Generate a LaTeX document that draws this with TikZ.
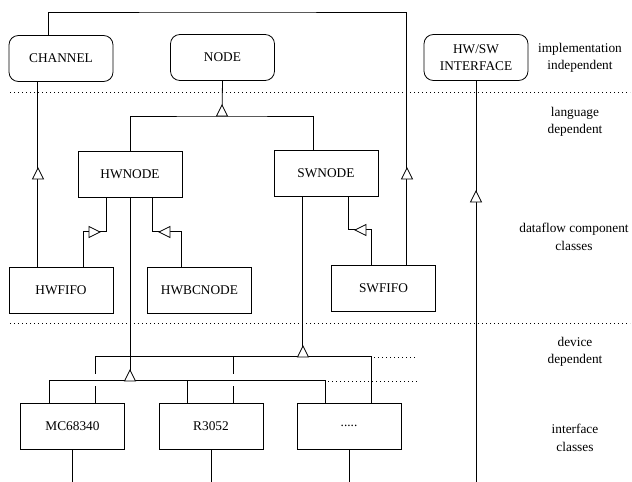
\documentclass[tikz,border=0pt]{standalone}
\usepackage{fontspec}
\setmainfont{Liberation Serif}
\usetikzlibrary{calc}
\tikzset{
  box/.style={draw, minimum width=78pt, minimum height=34.5pt, inner sep=0pt,
              font=\fontsize{10}{13}\selectfont, align=center},
  rbox/.style={box, rounded corners=7pt},
  lab/.style={align=center, font=\fontsize{10}{13}\selectfont},
  sep/.style={dash pattern=on 0.75pt off 2.25pt},
  triup/.pic={\draw[fill=white] (0,0)--(-5.5,11)--(5.5,11)--cycle;},
  trileft/.pic={\draw[fill=white] (0,0)--(11,-5.5)--(11,5.5)--cycle;},
  triright/.pic={\draw[fill=white] (0,0)--(-11,-5.5)--(-11,5.5)--cycle;},
}
\begin{document}
\begin{tikzpicture}[x=0.75pt,y=-0.75pt,line width=0.6pt]
\useasboundingbox (0,0) rectangle (632,482);

% separators
\draw[sep] (10,92.7) -- (630,92.7);
\draw[sep] (10,323) -- (630,323);

% nodes
\node[rbox] (channel) at (61,58.5) {CHANNEL};
\node[rbox] (node) at (222.5,57.5) {NODE};
\node[rbox] (hwsw) at (476,57.5) {HW/SW\\INTERFACE};
\node[box] (hwnode) at (130,174) {HWNODE};
\node[box] (swnode) at (326,173) {SWNODE};
\node[box] (hwfifo) at (61,290) {HWFIFO};
\node[box] (hwbc) at (199.5,290) {HWBCNODE};
\node[box] (swfifo) at (383.5,288) {SWFIFO};
\node[box] (mc) at (72.5,426) {MC68340};
\node[box] (r3) at (211,426) {R3052};
\node[box] (dots) at (349,426) {.....};

% labels
\node[lab] (l1) at (580,58) {implementation\\independent};
\node[lab] (l2) at (575,122) {language\\dependent};
\node[lab] (l3) at (574,237) {dataflow component\\classes};
\node[lab] (l4) at (575,352) {device\\dependent};
\node[lab] (l5) at (575,438) {interface\\classes};

% coordinates
\coordinate (top) at (228,12);
\coordinate (t1) at (222,116);
\coordinate (hwsweend) at (476,482);
\coordinate (mcend) at (72.5,482);
\coordinate (r3end) at (211,482);
\coordinate (dotsend) at (349,482);
\coordinate (busA) at (0,381);
\coordinate (busB) at (0,357);

% SWFIFO -> CHANNEL (top line)
\draw ($(swfifo.north west)+(75,0)$) |- (top) -| ($(channel.north west)+(40,0)$);
\pic at (407,168) {triup};

% NODE hierarchy
\draw (node.south) -- (t1);
\draw (hwnode.north) |- (t1) -| ($(swnode.north west)+(40,0)$);
\pic at (222,105) {triup};

% HWFIFO -> CHANNEL
\draw ($(channel.south west)+(29,0)$) -- ($(hwfifo.north west)+(29,0)$);
\pic at (38,168) {triup};

% HWFIFO -> HWNODE
\draw ($(hwfifo.north west)+(75,0)$) -- ++(0,-35) -| ($(hwnode.south west)+(29,0)$);
\pic at (100,232) {triright};

% HWBCNODE -> HWNODE
\draw ($(hwbc.north west)+(34,0)$) -- ++(0,-35) -| ($(hwnode.south west)+(75,0)$);
\pic at (159,232) {trileft};

% SWFIFO -> SWNODE
\draw ($(swfifo.north west)+(40,0)$) -- ++(0,-35) -| ($(swnode.south west)+(75,0)$);
\pic at (355,230) {trileft};

% HW/SW interface line
\draw (hwsw.south) -- (hwsweend);
\pic at (476,191) {triup};

% HWNODE -> interface classes
\draw (hwnode.south) -- (hwnode.south |- busA);
\draw ($(mc.north west)+(29,0)$) |- ($(dots.north west)+(29,-22)$) -- ($(dots.north west)+(29,0)$);
\draw ($(r3.north west)+(29,0)$) -- ++(0,-22);
\draw[sep] (328,381) -- (418,381);
\pic at (130,370) {triup};

% SWNODE -> interface classes
\draw ($(swnode.south west)+(29,0)$) -- ++(0,161);
\draw ($(mc.north west)+(75,-29)$) |- ($(dots.north west)+(75,-46)$) -- ($(dots.north west)+(75,0)$);
\draw ($(r3.north west)+(75,-29)$) -- ++(0,-17);
\draw ($(mc.north west)+(75,0)$) -- ++(0,-17);
\draw ($(r3.north west)+(75,0)$) -- ++(0,-17);
\draw[sep] (374,357) -- (415,357);
\pic at (303,346) {triup};

% lines below interface classes
\draw (mc.south) -- (mcend);
\draw (r3.south) -- (r3end);
\draw (dots.south) -- (dotsend);
\end{tikzpicture}
\end{document}
